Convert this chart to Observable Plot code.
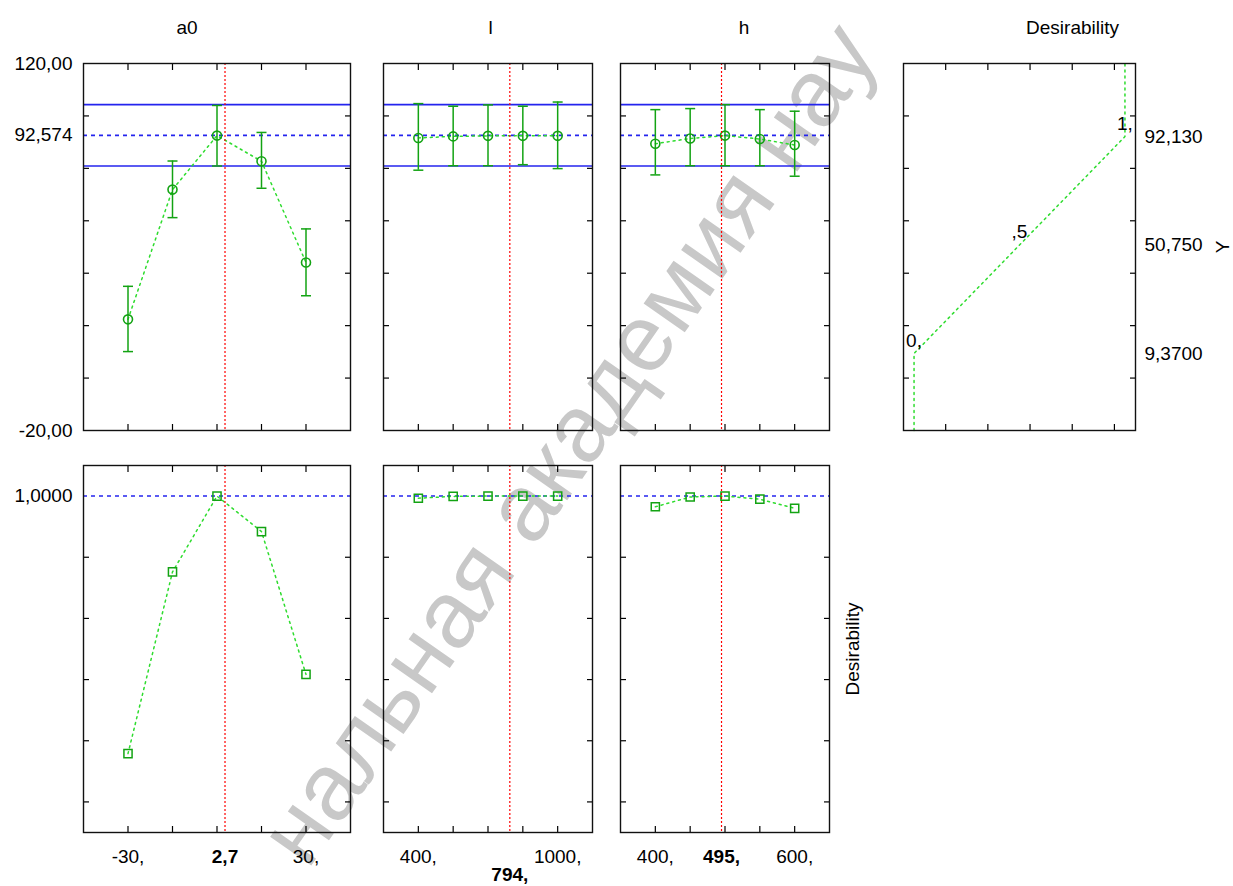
<!DOCTYPE html>
<html>
<head>
<meta charset="utf-8">
<script src="https://cdn.jsdelivr.net/npm/d3@7"></script>
<script src="https://cdn.jsdelivr.net/npm/@observablehq/plot@0.6"></script>
<style>
  html, body { margin: 0; padding: 0; background: #fff; }
  #chart { position: relative; width: 1233px; height: 886px; overflow: hidden;
           font-family: "Liberation Sans", Arial, sans-serif; background: #fff; }
  #chart svg { position: absolute; }
  #wm { position: absolute; left: 567px; top: 443px; font-size: 95px; line-height: 0.8;
        color: #c8c8c8; white-space: nowrap;
        transform: translate(-50%, -50%) rotate(-55deg); }
</style>
</head>
<body>
<div id="chart"><div id="wm">нальная академия нау</div></div>
<script>
// ---------- data ----------
const factorNames = ["a0", "l", "h"];
const responseName = "Y";
const desirName = "Desirability";

const a0Levels = [-30, -15, 0, 15, 30];
const a0Pred   = [22.4, 71.9, 92.5, 82.7, 44.1];
const a0Lo     = [10.1, 61.2, 80.9, 72.4, 31.4];
const a0Hi     = [35.0, 82.8, 104.0, 93.7, 56.9];
const a0Desir  = [0.158, 0.752, 1.0, 0.884, 0.417];

const lLevels = [400, 550, 700, 850, 1000];
const lPred   = [91.6, 92.2, 92.4, 92.4, 92.4];
const lLo     = [79.3, 81.0, 81.0, 81.4, 79.9];
const lHi     = [104.7, 103.7, 104.2, 103.7, 105.3];
const lDesir  = [0.993, 0.999, 1.0, 1.0, 1.0];

const hLevels = [400, 450, 500, 550, 600];
const hPred   = [89.4, 91.4, 92.5, 91.2, 88.9];
const hLo     = [77.5, 81.0, 81.0, 81.0, 77.0];
const hHi     = [102.4, 102.8, 104.3, 102.4, 101.8];
const hDesir  = [0.965, 0.997, 1.0, 0.99, 0.96];

const currentValues = [2.7, 794, 495];
const currentLabels = ["2,7", "794,", "495,"];
const predicted = 92.574;
const ciBounds = [80.9, 104.3];

// desirability function of Y
const dfY      = [-20, 9.37, 50.75, 92.13, 120];
const dfD      = [0, 0, 0.5, 1, 1];
const dfLabelY = [9.37, 50.75, 92.13];
const dfLabelD = [0, 0.5, 1];
const dfLabels = ["0,", ",5", "1,"];

// axes / tick labels
const yDomainTop = [-20, 120];
const yTicksTop = [0, 20, 40, 60, 80, 100];
const yLabelValsTop = [120, 92.574, -20];
const yLabelTextTop = ["120,00", "92,574", "-20,00"];
const yDomainBot = [-0.1, 1.1];
const yTicksBot = [0, 0.2, 0.4, 0.6, 0.8];
const yLabelValsBot = [1];
const yLabelTextBot = ["1,0000"];
const dfRightVals = [92.13, 50.75, 9.37];
const dfRightText = ["92,130", "50,750", "9,3700"];

const xDomains = [[-45, 45], [250, 1150], [350, 650]];
const xTickVals = [a0Levels, lLevels, hLevels];
const xLabelVals = [[-30, 30], [400, 1000], [400, 600]];
const xLabelText = [["-30,", "30,"], ["400,", "1000,"], ["400,", "600,"]];
const dfXDomain = [-0.05, 1.05];
const dfXTicks = [0.15, 0.35, 0.55, 0.75, 0.95];

// ---------- styling / layout ----------
const GREEN = "#13a313", LGREEN = "#2edc2e", BLUE = "#2424ee", RED = "#ff0000";
const FONT = '"Liberation Sans", Arial, sans-serif';
const cols = [[83, 350], [383, 592], [620, 829], [903, 1135]];
const rowsY = [[63, 430], [465, 832]];
const titleDx = [-30, 2.5, 19, 53];
const M = 110;
const chart = document.getElementById("chart");

const capSymbol = { draw(ctx, size) { const w = Math.sqrt(size / Math.PI); ctx.moveTo(-w, 0); ctx.lineTo(w, 0); } };
const fmt = (vals, texts) => { const m = new Map(vals.map((v, i) => [v, texts[i]])); return d => m.get(d) ?? ""; };

function inTicks(xt, yt) {
  const none = () => "";
  return [
    Plot.axisY({anchor: "left", ticks: yt, tickSize: 6, dx: 6, tickFormat: none, label: null, strokeWidth: 1.2}),
    Plot.axisY({anchor: "right", ticks: yt, tickSize: 6, dx: -6, tickFormat: none, label: null, strokeWidth: 1.2}),
    Plot.axisX({anchor: "top", ticks: xt, tickSize: 6, dy: 6, tickFormat: none, label: null, strokeWidth: 1.2}),
    Plot.axisX({anchor: "bottom", ticks: xt, tickSize: 6, dy: -6, tickFormat: none, label: null, strokeWidth: 1.2})
  ];
}

function panel(col, row, xDomain, yDomain, marks) {
  const [l, r] = cols[col], [t, b] = rowsY[row];
  const p = Plot.plot({
    width: r - l + 2 * M, height: b - t + 2 * M,
    marginLeft: M, marginRight: M, marginTop: M, marginBottom: M,
    x: {domain: xDomain, label: null},
    y: {domain: yDomain, label: null},
    style: {background: "transparent", fontSize: "19px", fontFamily: FONT, color: "#000", overflow: "visible"},
    marks: [...marks, Plot.frame({stroke: "#111", strokeWidth: 1.4})]
  });
  p.style.left = (l - M) + "px";
  p.style.top = (t - M) + "px";
  chart.append(p);
}

const preds = [a0Pred, lPred, hPred], los = [a0Lo, lLo, hLo], his = [a0Hi, lHi, hHi];
const desirs = [a0Desir, lDesir, hDesir];
const redLine = (v) => Plot.ruleX([v], {stroke: RED, strokeOpacity: 1, strokeWidth: 1.2, strokeDasharray: "2,2"});

for (let k = 0; k < 3; k++) {
  const rows = xTickVals[k].map((x, i) => ({x, y: preds[k][i], lo: los[k][i], hi: his[k][i], d: desirs[k][i]}));
  // top row: predicted response
  const topMarks = [
    Plot.text([factorNames[k]], {frameAnchor: "top", lineAnchor: "middle", dy: -36, dx: titleDx[k], fontSize: 19}),
    ...inTicks(xTickVals[k], yTicksTop),
    Plot.ruleY(ciBounds, {stroke: BLUE, strokeWidth: 1.6}),
    Plot.ruleY([predicted], {stroke: BLUE, strokeWidth: 1.6, strokeDasharray: "4,4"}),
    Plot.line(rows, {x: "x", y: "y", stroke: LGREEN, strokeWidth: 1.5, strokeDasharray: "2,4"}),
    Plot.ruleX(rows, {x: "x", y1: "lo", y2: "hi", stroke: GREEN, strokeWidth: 1.5}),
    Plot.dot(rows, {x: "x", y: "hi", symbol: capSymbol, r: 5, stroke: GREEN, fill: "none", strokeWidth: 1.5}),
    Plot.dot(rows, {x: "x", y: "lo", symbol: capSymbol, r: 5, stroke: GREEN, fill: "none", strokeWidth: 1.5}),
    Plot.dot(rows, {x: "x", y: "y", r: 4.5, stroke: GREEN, fill: "none", strokeWidth: 1.6}),
    redLine(currentValues[k])
  ];
  if (k === 0) topMarks.push(Plot.axisY({anchor: "left", ticks: yLabelValsTop, tickSize: 0, tickPadding: 11,
    tickFormat: fmt(yLabelValsTop, yLabelTextTop), label: null}));
  panel(k, 0, xDomains[k], yDomainTop, topMarks);

  // bottom row: desirability
  const botMarks = [
    ...inTicks(xTickVals[k], yTicksBot),
    Plot.ruleY([1], {stroke: BLUE, strokeWidth: 1.5, strokeDasharray: "4,4"}),
    Plot.line(rows, {x: "x", y: "d", stroke: LGREEN, strokeWidth: 1.5, strokeDasharray: "2,4"}),
    Plot.dot(rows, {x: "x", y: "d", symbol: "square", r: 4.6, stroke: GREEN, fill: "none", strokeWidth: 1.5}),
    redLine(currentValues[k]),
    Plot.axisX({anchor: "bottom", ticks: xLabelVals[k], tickSize: 0, tickPadding: 17,
      tickFormat: fmt(xLabelVals[k], xLabelText[k]), label: null}),
    Plot.axisX({anchor: "bottom", ticks: [currentValues[k]], tickSize: 0, tickPadding: k === 1 ? 35 : 17,
      tickFormat: () => currentLabels[k], fontWeight: "bold", label: null})
  ];
  if (k === 0) botMarks.push(Plot.axisY({anchor: "left", ticks: yLabelValsBot, tickSize: 0, tickPadding: 11,
    tickFormat: fmt(yLabelValsBot, yLabelTextBot), label: null}));
  if (k === 2) botMarks.push(Plot.text([desirName], {frameAnchor: "right", textAnchor: "middle", lineAnchor: "middle",
    dx: 23, rotate: -90, fontSize: 19}));
  panel(k, 1, xDomains[k], yDomainBot, botMarks);
}

// desirability function panel (top right)
const dfRows = dfY.map((y, i) => ({y, d: dfD[i]}));
const dfLab = dfLabels.map((t, i) => ({t, y: dfLabelY[i], d: dfLabelD[i]}));
panel(3, 0, dfXDomain, yDomainTop, [
  Plot.text([desirName], {frameAnchor: "top", lineAnchor: "middle", dy: -36, dx: titleDx[3], fontSize: 19}),
  ...inTicks(dfXTicks, yTicksTop),
  Plot.line(dfRows, {x: "d", y: "y", stroke: LGREEN, strokeWidth: 1.5, strokeDasharray: "2,4"}),
  Plot.text(dfLab, {x: "d", y: "y", text: "t", dy: -13, fontSize: 19}),
  Plot.axisY({anchor: "right", ticks: dfRightVals, tickSize: 0, tickPadding: 9,
    tickFormat: fmt(dfRightVals, dfRightText), label: null}),
  Plot.text([responseName], {frameAnchor: "right", textAnchor: "middle", lineAnchor: "middle",
    dx: 87, rotate: -90, fontSize: 19})
]);
</script>
</body>
</html>
